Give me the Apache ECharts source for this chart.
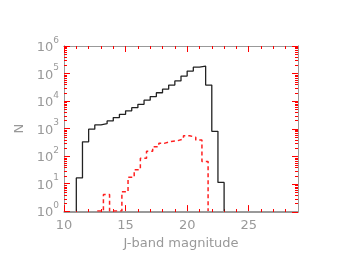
<!DOCTYPE html>
<html>
<head>
<meta charset="utf-8">
<script src="https://cdn.jsdelivr.net/npm/echarts@6/dist/echarts.min.js"></script>
<style>
html,body{margin:0;padding:0;background:#fff;}
#chart{width:338px;height:255px;}
</style>
</head>
<body>
<div id="chart"></div>
<script>
// ---- data ----
const binWidth = 0.5;
const allStart = 11.0;           // left edge of first bin, full sample (black)
const allCounts = [16, 330, 950, 1350, 1510, 1900, 2500, 3300, 4400, 5750, 7600, 10700,
                   14500, 20000, 27000, 38000, 54000, 81000, 123000, 170000, 186000, 38000, 790, 11];
const subStart = 12.7;           // left edge of first bin, subsample (red dashed)
const subCounts = [1, 4, 1, 1, 5, 17, 32, 83, 150, 220, 295, 340, 360, 415, 550, 480, 380, 63];

const xMin = 10, xMax = 29;
const xMajor = [10, 15, 20, 25];
const xMinor = [11,12,13,14,16,17,18,19,21,22,23,24,26,27,28];
const yMin = 1, yMax = 1000000;
const yMajor = [1, 10, 100, 1000, 10000, 100000, 1000000];
const yMinor = [];
for (let e = 0; e < 6; e++) for (let k = 2; k <= 9; k++) yMinor.push(k * Math.pow(10, e));

const xTitle = 'J-band magnitude';
const yTitle = 'N';

// ---- build step outlines from the bins ----
const FLOOR = 1;
function steps(start, counts) {
  const pts = [[start, FLOOR]];
  counts.forEach((c, i) => {
    const l = start + i * binWidth;
    pts.push([l, c]);
    pts.push([l + binWidth, c]);
  });
  pts.push([start + counts.length * binWidth, FLOOR]);
  return pts;
}

const GRAY = '#999';
const TICK = '#ff0000';
const FONT = 'DejaVu Sans';
function grid() { return {left: 64, right: 40, top: 46, bottom: 43}; }

function xAx(gi, pos, ticks, len, withLabels) {
  const a = {
    gridIndex: gi, type: 'value', position: pos, min: xMin, max: xMax, interval: 5,
    axisLine: {show: true, lineStyle: {color: GRAY}},
    axisTick: {show: true, inside: true, length: len, customValues: ticks, lineStyle: {color: TICK, width: 1}},
    axisLabel: {show: false},
    splitLine: {show: false}
  };
  if (withLabels) {
    a.axisLabel = {show: true, customValues: xMajor, color: GRAY, fontSize: 13, fontFamily: FONT, margin: 8};
    a.name = xTitle; a.nameLocation = 'middle'; a.nameGap = 24;
    a.nameTextStyle = {color: GRAY, fontSize: 13, fontFamily: FONT};
  }
  return a;
}
function yAx(gi, pos, ticks, len, withLabels) {
  const a = {
    gridIndex: gi, type: 'log', logBase: 10, position: pos, min: yMin, max: yMax,
    axisLine: {show: true, lineStyle: {color: GRAY}},
    axisTick: {show: true, inside: true, length: len, customValues: ticks, lineStyle: {color: TICK, width: 1}},
    axisLabel: {show: false},
    splitLine: {show: false}
  };
  if (withLabels) {
    a.axisLabel = {
      show: true, customValues: yMajor, margin: 5,
      formatter: v => '{b|10}{s|' + Math.round(Math.log10(v)) + '}',
      rich: {
        b: {color: GRAY, fontSize: 13, fontFamily: FONT, lineHeight: 20, padding: [4, 0, 0, 0]},
        s: {color: GRAY, fontSize: 9, fontFamily: FONT, verticalAlign: 'top'}
      }
    };
    a.name = yTitle; a.nameLocation = 'middle'; a.nameGap = 33; a.nameRotate = 90;
    a.nameTextStyle = {color: GRAY, fontSize: 13, fontFamily: FONT};
  }
  return a;
}

const chart = echarts.init(document.getElementById('chart'));
chart.setOption({
  animation: false,
  grid: [grid(), grid(), grid(), grid()],
  xAxis: [
    xAx(0, 'bottom', xMajor, 6, true),
    xAx(1, 'bottom', xMinor, 3, false),
    xAx(2, 'top', xMajor, 6, false),
    xAx(3, 'top', xMinor, 3, false)
  ],
  yAxis: [
    yAx(0, 'left', yMajor, 6, true),
    yAx(1, 'left', yMinor, 3, false),
    yAx(2, 'right', yMajor, 6, false),
    yAx(3, 'right', yMinor, 3, false)
  ],
  series: [
    {
      type: 'line', xAxisIndex: 0, yAxisIndex: 0,
      data: steps(allStart, allCounts), symbol: 'none', clip: true,
      lineStyle: {color: '#222', width: 1.3}
    },
    {
      type: 'line', xAxisIndex: 0, yAxisIndex: 0,
      data: steps(subStart, subCounts), symbol: 'none', clip: true,
      lineStyle: {color: '#ff2020', width: 1.5, type: [4, 3]}
    }
  ]
});
</script>
</body>
</html>
